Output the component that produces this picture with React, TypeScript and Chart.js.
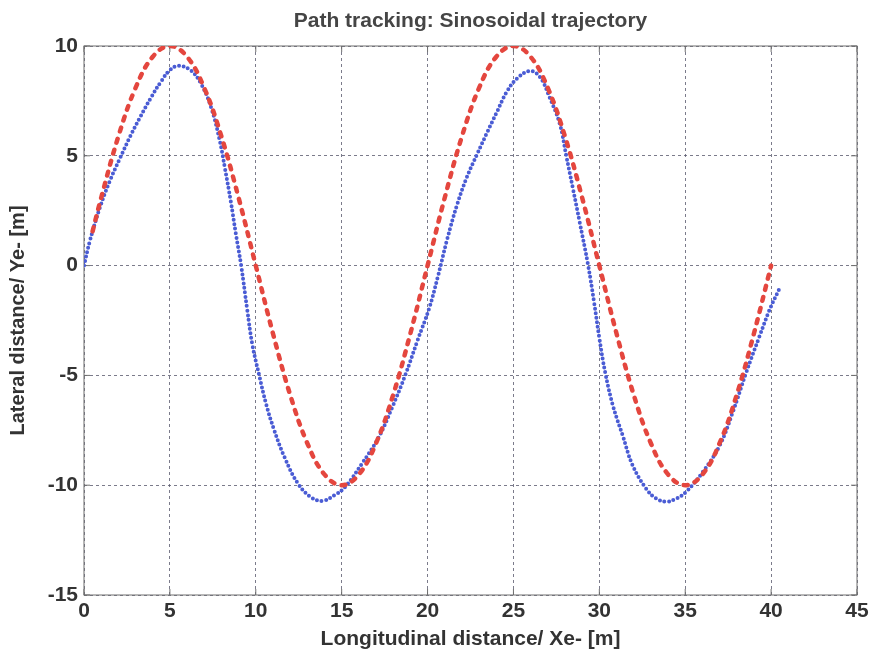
import React, { useEffect, useRef } from "react";
import { Chart, registerables } from "chart.js";

Chart.register(...registerables);

const titleText = "Path tracking: Sinosoidal trajectory";
const xTitle = "Longitudinal distance/ Xe- [m]";
const yTitle = "Lateral distance/ Ye- [m]";

const xTicks = [0, 5, 10, 15, 20, 25, 30, 35, 40, 45];
const yTicks = [-15, -10, -5, 0, 5, 10];

// Reference trajectory (red)
const refX = [0.5, 1, 2, 3, 4, 5, 6, 7, 8, 9, 10, 11, 12, 13, 14, 15, 16, 17, 18, 19, 20,
  21, 22, 23, 24, 25, 26, 27, 28, 29, 30, 31, 32, 33, 34, 35, 36, 37, 38, 39, 40];
const refY = [1.56, 3.09, 5.88, 8.09, 9.51, 10, 9.51, 8.09, 5.88, 3.09, 0, -3.09, -5.88, -8.09, -9.51, -10,
  -9.51, -8.09, -5.88, -3.09, 0, 3.09, 5.88, 8.09, 9.51, 10, 9.51, 8.09, 5.88, 3.09, 0,
  -3.09, -5.88, -8.09, -9.51, -10, -9.51, -8.09, -5.88, -3.09, 0];

// Vehicle path (blue)
const vehX = [0, 0.35, 0.95, 1.5, 2.1, 2.7, 3.3, 3.9, 4.5, 5.0, 5.5, 6.2, 6.8, 7.4, 7.9, 8.2, 8.55, 8.85,
  9.15, 9.5, 9.8, 10.2, 10.6, 11.08, 11.67, 12.45, 13.24, 13.9, 14.6, 15.2, 16.18, 17.16, 17.94,
  18.72, 19.4, 20.1, 20.6, 21.15, 21.73, 22.3, 22.9, 23.46, 24.04, 24.6, 25.2, 25.96, 26.54, 27.1,
  27.7, 28.08, 28.46, 28.85, 29.35, 29.7, 30.0, 30.35, 30.8, 31.36, 31.94, 32.72, 33.3, 33.9, 34.5,
  35.05, 36.02, 37.0, 37.76, 38.54, 39.32, 39.9, 40.45];
const vehY = [0, 1.15, 2.7, 3.85, 4.9, 5.9, 6.8, 7.65, 8.4, 8.9, 9.1, 8.9, 8.3, 7.2, 5.7, 4.45, 2.9, 1.4,
  0, -2.0, -3.6, -5.0, -6.3, -7.51, -8.72, -9.92, -10.56, -10.71, -10.45, -10.08, -9.02, -7.81, -6.46,
  -4.95, -3.44, -1.93, -0.5, 1.22, 2.8, 4.05, 5.1, 6.05, 7.0, 7.9, 8.51, 8.86, 8.59, 7.67,
  6.44, 4.98, 3.52, 2.0, 0, -1.7, -3.3, -4.9, -6.4, -7.74, -9.1, -10.15, -10.6, -10.75, -10.6,
  -10.3, -9.4, -8.2, -6.69, -4.89, -3.23, -2.03, -1.1];

const FONT = "Arial, 'Liberation Sans', sans-serif";

const framePlugin = {
  id: "frame",
  beforeDatasetsDraw(chart: any) {
    const { ctx, chartArea } = chart;
    const { left, right, top, bottom } = chartArea;
    ctx.save();
    ctx.strokeStyle = "#6f6f6f";
    ctx.lineWidth = 1;
    ctx.setLineDash([]);
    ctx.strokeRect(left, top, right - left, bottom - top);
    const xs = chart.scales.x;
    const ys = chart.scales.y;
    const t = 6;
    ctx.beginPath();
    xTicks.forEach((v) => {
      const px = xs.getPixelForValue(v);
      ctx.moveTo(px, bottom);
      ctx.lineTo(px, bottom - t);
      ctx.moveTo(px, top);
      ctx.lineTo(px, top + t);
    });
    yTicks.forEach((v) => {
      const py = ys.getPixelForValue(v);
      ctx.moveTo(left, py);
      ctx.lineTo(left + t, py);
      ctx.moveTo(right, py);
      ctx.lineTo(right - t, py);
    });
    ctx.stroke();
    ctx.restore();
  },
  afterDraw(chart: any) {
    const { ctx, chartArea } = chart;
    ctx.save();
    ctx.fillStyle = "#454545";
    ctx.font = "bold 21px " + FONT;
    ctx.textAlign = "center";
    ctx.textBaseline = "alphabetic";
    ctx.fillText(titleText, (chartArea.left + chartArea.right) / 2, 27);
    ctx.restore();
  },
};

export default function App() {
  const ref = useRef<HTMLCanvasElement | null>(null);
  useEffect(() => {
    if (!ref.current) return;
    const chart = new Chart(ref.current, {
      type: "scatter",
      data: {
        datasets: [
          {
            label: "Reference",
            data: refX.map((x, i) => ({ x, y: refY[i] })),
            showLine: true,
            borderColor: "#e4463e",
            borderWidth: 4.5,
            borderDash: [4, 7.5],
            borderCapStyle: "round",
            tension: 0.4,
            pointRadius: 0,
            fill: false,
          },
          {
            label: "Vehicle",
            data: vehX.map((x, i) => ({ x, y: vehY[i] })),
            showLine: true,
            borderColor: "#4a5cd4",
            borderWidth: 4,
            borderDash: [0, 4.6],
            borderCapStyle: "round",
            tension: 0.4,
            pointRadius: 0,
            fill: false,
          },
        ],
      },
      options: {
        animation: false,
        responsive: true,
        maintainAspectRatio: false,
        layout: { padding: { left: 0, right: 16, top: 46, bottom: 0 } },
        plugins: {
          legend: { display: false },
          tooltip: { enabled: false },
          title: { display: false },
        },
        scales: {
          x: {
            type: "linear",
            min: 0,
            max: 45,
            afterBuildTicks: (s: any) => {
              s.ticks = xTicks.map((v) => ({ value: v }));
            },
            afterFit: (s: any) => {
              s.height = 55;
            },
            ticks: {
              color: "#333",
              font: { family: FONT, size: 21, weight: "bold" },
              padding: 4,
              maxRotation: 0,
            },
            grid: {
              color: "rgba(90,90,110,0.8)",
              lineWidth: 1,
              drawTicks: false,
            },
            border: { display: false, dash: [3, 3] },
            title: {
              display: true,
              text: xTitle,
              color: "#333",
              font: { family: FONT, size: 21, weight: "bold", lineHeight: 1 },
              padding: { top: 0, bottom: 0 },
            },
          },
          y: {
            type: "linear",
            min: -15,
            max: 10,
            afterBuildTicks: (s: any) => {
              s.ticks = yTicks.map((v) => ({ value: v }));
            },
            afterFit: (s: any) => {
              s.width = 84;
            },
            ticks: {
              color: "#333",
              font: { family: FONT, size: 21, weight: "bold" },
              padding: 6,
            },
            grid: {
              color: "rgba(90,90,110,0.8)",
              lineWidth: 1,
              drawTicks: false,
            },
            border: { display: false, dash: [3, 3] },
            title: {
              display: true,
              text: yTitle,
              color: "#333",
              font: { family: FONT, size: 20, weight: "bold", lineHeight: 1 },
              padding: { top: 8, bottom: 0 },
            },
          },
        },
      },
      plugins: [framePlugin],
    });
    return () => chart.destroy();
  }, []);
  return (
    <div style={{ position: "absolute", left: 0, top: 0, width: 873, height: 650, background: "#fff" }}>
      <canvas ref={ref} />
    </div>
  );
}
